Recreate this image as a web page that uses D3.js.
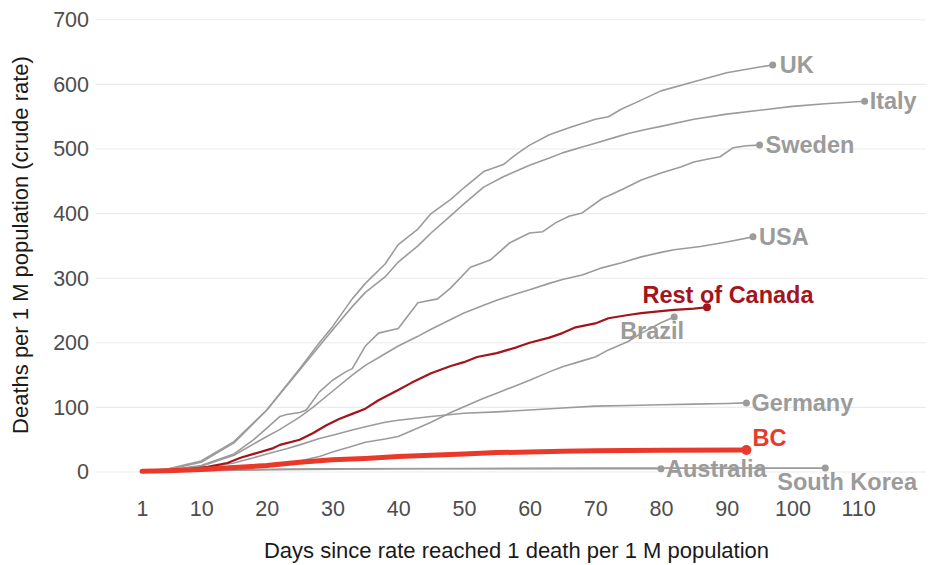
<!DOCTYPE html>
<html>
<head>
<meta charset="utf-8">
<script src="https://cdn.jsdelivr.net/npm/d3@7"></script>
<style>
  html, body { margin: 0; padding: 0; background: #ffffff; }
  svg { display: block; font-family: "Liberation Sans", Arial, sans-serif; }
</style>
</head>
<body>
<svg id="chart" width="930" height="565"></svg>
<script>
// ---------------- DATA ----------------
const xTicks = [1, 10, 20, 30, 40, 50, 60, 70, 80, 90, 100, 110];
const yTicks = [0, 100, 200, 300, 400, 500, 600, 700];

const uk = [[1,1],[5,4],[10,15],[15,45],[20,96],[25,160],[28,200],[30,225],[33,268],[35,292],[38,322],[40,352],[43,376],[45,400],[48,422],[50,440],[53,465],[56,476],[58,492],[60,506],[63,522],[66,533],[70,546],[72,550],[74,562],[76,571],[80,590],[85,604],[90,618],[95,627],[97,630]];
const italy = [[1,1],[5,5],[10,17],[15,47],[20,96],[25,158],[28,195],[30,220],[33,256],[35,278],[38,302],[40,325],[43,350],[45,370],[48,397],[50,415],[53,441],[56,457],[60,475],[63,486],[65,494],[68,503],[70,509],[73,518],[75,524],[78,531],[80,535],[85,546],[90,554],[95,560],[100,566],[105,570],[111,574]];
const sweden = [[1,1],[5,3],[10,10],[15,28],[18,50],[20,68],[22,86],[23,89],[25,92],[26,96],[28,124],[30,142],[32,155],[33,160],[35,195],[37,215],[40,222],[43,262],[46,268],[48,285],[51,317],[54,328],[57,355],[60,370],[62,372],[64,386],[66,396],[68,401],[71,423],[74,437],[77,452],[80,463],[83,472],[85,480],[87,484],[89,488],[91,502],[93,505],[95,506]];
const usa = [[1,1],[5,3],[10,9],[15,26],[20,55],[22,66],[25,85],[27,100],[30,125],[33,150],[35,165],[38,183],[40,195],[43,210],[45,221],[48,236],[50,246],[53,258],[55,266],[58,276],[60,282],[63,292],[65,298],[68,305],[71,316],[74,324],[77,333],[80,340],[82,344],[86,349],[90,356],[94,364]];
const restOfCanada = [[1,1],[5,2],[8,4],[11,8],[14,14],[16,22],[18,28],[21,37],[22,42],[25,50],[27,60],[29,72],[31,82],[33,90],[35,98],[37,111],[40,127],[42,138],[45,153],[48,164],[50,170],[52,178],[55,184],[58,193],[60,200],[63,208],[65,215],[67,224],[70,230],[72,238],[75,243],[77,246],[80,249],[82,251],[85,253],[87,255]];
const brazil = [[1,1],[5,2],[10,3],[15,6],[20,10],[25,17],[28,24],[30,31],[33,40],[35,46],[38,51],[40,55],[43,68],[45,77],[48,92],[50,101],[53,114],[55,122],[58,134],[60,142],[63,155],[65,163],[68,172],[70,178],[72,189],[75,202],[77,215],[80,231],[82,240]];
const germany = [[1,1],[5,2],[10,6],[15,14],[18,22],[20,28],[23,36],[25,42],[28,52],[30,57],[33,65],[35,70],[38,77],[40,80],[45,86],[50,91],[55,93],[60,96],[65,99],[70,102],[75,103],[80,104],[85,105],[90,106],[93,107]];
const bc = [[1,1],[5,2],[10,4],[15,7],[20,10],[25,15],[30,19],[35,21],[40,24],[45,26],[50,28],[55,30],[60,31],[65,32],[70,33],[80,33.5],[93,34]];
const australia = [[1,1],[10,2],[20,3.5],[30,4.5],[40,5],[60,5],[80,5]];
const southKorea = [[1,1],[10,2.5],[20,4],[30,5],[50,5.5],[70,6],[105,6]];

const seriesNames = ["UK","Italy","Sweden","USA","Brazil","Germany","Australia","South Korea","Rest of Canada","BC"];
const seriesData  = [uk, italy, sweden, usa, brazil, germany, australia, southKorea, restOfCanada, bc];

// ---------------- STYLE / LAYOUT ----------------
const GRAY = "#9b9b9b", DARKRED = "#a3141c", RED = "#e8392b";
const style = {
  "UK": {color: GRAY, width: 1.6, r: 3.5},
  "Italy": {color: GRAY, width: 1.6, r: 3.5},
  "Sweden": {color: GRAY, width: 1.6, r: 3.5},
  "USA": {color: GRAY, width: 1.6, r: 3.5},
  "Brazil": {color: GRAY, width: 1.6, r: 3.5},
  "Germany": {color: GRAY, width: 1.6, r: 3.5},
  "Australia": {color: GRAY, width: 1.6, r: 3.5},
  "South Korea": {color: GRAY, width: 1.6, r: 3.5},
  "Rest of Canada": {color: DARKRED, width: 2.2, r: 4},
  "BC": {color: RED, width: 5, r: 5}
};
// label offsets relative to the end point (dx, baseline dy, anchor)
const labelLayout = {
  "UK": [7, 8, "start"],
  "Italy": [5, 8, "start"],
  "Sweden": [6, 8, "start"],
  "USA": [6, 8, "start"],
  "Germany": [5, 8, "start"],
  "Australia": [5, 8, "start"],
  "South Korea": [-48, 22, "start"],
  "Brazil": [-22, 22, "middle"],
  "Rest of Canada": [21, -4, "middle"],
  "BC": [6, -4, "start"]
};

const svg = d3.select("#chart");
const plotLeft = 96, plotRight = 926;

const x = d3.scaleLinear().domain([1, 110]).range([142, 858.1]);
const y = d3.scaleLinear().domain([0, 700]).range([472, 19.8]);

// gridlines
svg.append("g").selectAll("line").data(yTicks).join("line")
  .attr("x1", plotLeft).attr("x2", plotRight)
  .attr("y1", d => y(d)).attr("y2", d => y(d))
  .attr("stroke", "#ebebeb").attr("stroke-width", 1.1);

// y axis
const yAxis = svg.append("g").attr("transform", `translate(${plotLeft},0)`)
  .call(d3.axisLeft(y).tickValues(yTicks).tickSize(0).tickPadding(7));
yAxis.select(".domain").remove();
yAxis.selectAll("text").attr("font-size", 21.5).attr("fill", "#4d4d4d")
  .attr("font-family", "Liberation Sans, Arial, sans-serif");

// x axis
const xAxis = svg.append("g").attr("transform", `translate(0,${488})`)
  .call(d3.axisBottom(x).tickValues(xTicks).tickSize(0).tickPadding(13).tickFormat(d3.format("d")));
xAxis.select(".domain").remove();
xAxis.selectAll("text").attr("font-size", 21.5).attr("fill", "#4d4d4d")
  .attr("font-family", "Liberation Sans, Arial, sans-serif");

// axis titles
svg.append("text")
  .attr("x", 516.5).attr("y", 558)
  .attr("text-anchor", "middle").attr("font-size", 22).attr("fill", "#1a1a1a")
  .text("Days since rate reached 1 death per 1 M population");
svg.append("text")
  .attr("transform", `translate(28,${245}) rotate(-90)`)
  .attr("text-anchor", "middle").attr("font-size", 22).attr("fill", "#1a1a1a")
  .text("Deaths per 1 M population (crude rate)");

// lines
const line = d3.line().x(d => x(d[0])).y(d => y(d[1])).curve(d3.curveLinear);
const g = svg.append("g");
seriesNames.forEach((name, i) => {
  const data = seriesData[i], st = style[name];
  g.append("path").datum(data)
    .attr("d", line).attr("fill", "none")
    .attr("stroke", st.color).attr("stroke-width", st.width)
    .attr("stroke-linejoin", "round").attr("stroke-linecap", "round");
});
// end points & labels
seriesNames.forEach((name, i) => {
  const data = seriesData[i], st = style[name];
  const last = data[data.length - 1];
  const px = x(last[0]), py = y(last[1]);
  g.append("circle").attr("cx", px).attr("cy", py).attr("r", st.r).attr("fill", st.color);
  const lay = labelLayout[name];
  g.append("text")
    .attr("x", px + lay[0]).attr("y", py + lay[1])
    .attr("text-anchor", lay[2])
    .attr("font-size", 23.5).attr("font-weight", "bold")
    .attr("fill", st.color)
    .text(name);
});
</script>
</body>
</html>
